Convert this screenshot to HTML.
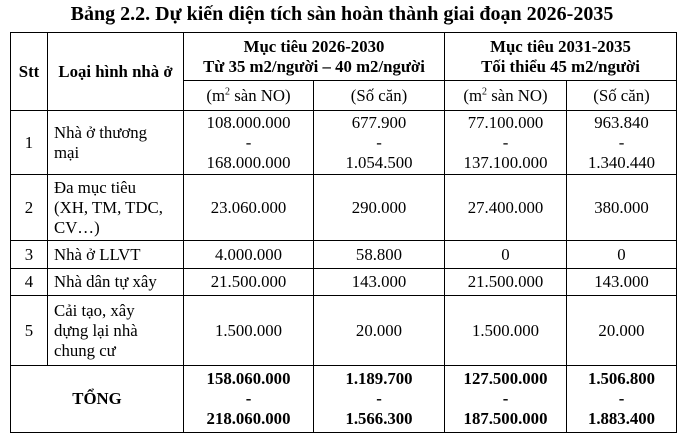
<!DOCTYPE html>
<html><head><meta charset="utf-8"><style>
html,body{margin:0;padding:0;background:#fff;width:684px;height:435px;overflow:hidden}
body{font-family:"Liberation Serif",serif;color:#000;font-size:16.8px}
.title{position:absolute;left:0;width:684px;top:3px;text-align:center;font-weight:bold;font-size:20px}
table{position:absolute;left:10px;top:32px;border-collapse:collapse;table-layout:fixed}
td{border:1px solid #000;padding:0;text-align:center;vertical-align:middle;line-height:20px;white-space:nowrap}
.l{text-align:left;padding-left:6px}
b{font-weight:bold}
sup{font-size:10px;line-height:0}
</style></head><body>
<div class="title">Bảng 2.2. Dự kiến diện tích sàn hoàn thành giai đoạn 2026-2035</div>
<table>
<colgroup><col style="width:37px"><col style="width:136px"><col style="width:130px"><col style="width:131px"><col style="width:122px"><col style="width:110px"></colgroup>
<tr style="height:48px"><td rowspan="2"><b>Stt</b></td><td rowspan="2"><b>Loại hình nhà ở</b></td><td colspan="2"><b>Mục tiêu 2026-2030<br>Từ 35 m2/người – 40 m2/người</b></td><td colspan="2"><b>Mục tiêu 2031-2035<br>Tối thiểu 45 m2/người</b></td></tr>
<tr style="height:30px"><td>(m<sup>2</sup> sàn NO)</td><td>(Số căn)</td><td>(m<sup>2</sup> sàn NO)</td><td>(Số căn)</td></tr>
<tr style="height:64px"><td>1</td><td class="l">Nhà ở thương<br>mại</td><td>108.000.000<br>-<br>168.000.000</td><td>677.900<br>-<br>1.054.500</td><td>77.100.000<br>-<br>137.100.000</td><td>963.840<br>-<br>1.340.440</td></tr>
<tr style="height:66px"><td>2</td><td class="l">Đa mục tiêu<br>(XH, TM, TDC,<br>CV…)</td><td>23.060.000</td><td>290.000</td><td>27.400.000</td><td>380.000</td></tr>
<tr style="height:28px"><td>3</td><td class="l">Nhà ở LLVT</td><td>4.000.000</td><td>58.800</td><td>0</td><td>0</td></tr>
<tr style="height:27px"><td>4</td><td class="l">Nhà dân tự xây</td><td>21.500.000</td><td>143.000</td><td>21.500.000</td><td>143.000</td></tr>
<tr style="height:70px"><td>5</td><td class="l">Cải tạo, xây<br>dựng lại nhà<br>chung cư</td><td>1.500.000</td><td>20.000</td><td>1.500.000</td><td>20.000</td></tr>
<tr style="height:67px"><td colspan="2"><b>TỔNG</b></td><td><b>158.060.000<br>-<br>218.060.000</b></td><td><b>1.189.700<br>-<br>1.566.300</b></td><td><b>127.500.000<br>-<br>187.500.000</b></td><td><b>1.506.800<br>-<br>1.883.400</b></td></tr>
</table>
</body></html>
